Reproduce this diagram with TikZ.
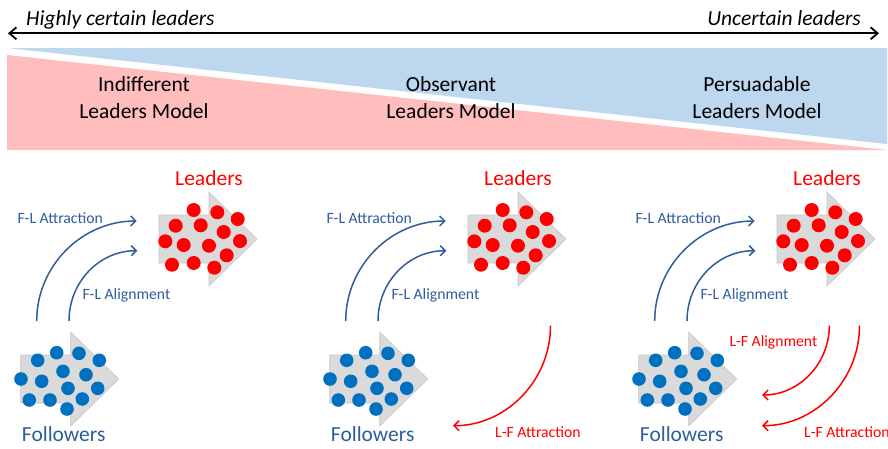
\documentclass[tikz,border=0pt]{standalone}
\usepackage{fontspec}
\setmainfont{Carlito}
\usetikzlibrary{arrows.meta}
\definecolor{pinkA}{RGB}{255,189,189}
\definecolor{blueA}{RGB}{189,215,238}
\definecolor{dblue}{RGB}{46,94,155}
\definecolor{dotblue}{RGB}{0,112,192}
\definecolor{arrowgray}{RGB}{218,218,218}
\definecolor{arrowedge}{RGB}{200,200,200}
\begin{document}
\begin{tikzpicture}[x=1pt,y=-1pt,
  bigtxt/.style={font=\fontsize{21.5}{27}\selectfont, inner sep=0pt},
  ittxt/.style={font=\fontsize{21.5}{26}\selectfont\itshape, inner sep=0pt},
  lbl/.style={font=\fontsize{15.7}{18}\selectfont, inner sep=0pt},
  flarrow/.style={draw=dblue, line width=1.5pt, -{Straight Barb[length=5pt,width=10pt]}},
  lfarrow/.style={draw=red, line width=1.5pt, -{Straight Barb[length=5pt,width=10pt]}},
  grayarrow/.style={fill=arrowgray, draw=arrowedge, line width=0.6pt},
  holder/.style={inner sep=0pt, minimum width=98pt, minimum height=94pt}
]
\clip (0,0) rectangle (888,448);
\fill[white] (0,0) rectangle (888,448);

% background wedges
\fill[blueA] (7,48) -- (887,48) -- (887,144) -- cycle;
\fill[pinkA] (7,55) -- (887,150) -- (7,150) -- cycle;

% top axis
\coordinate (axL) at (8,33.3);
\coordinate (axR) at (879,33.3);
\draw[line width=1.8pt, {Straight Barb[length=7pt,width=12pt]}-{Straight Barb[length=7pt,width=12pt]}] (axL) -- (axR);
\node[ittxt, anchor=base west] (hc) at (26,25) {Highly certain leaders};
\node[ittxt, anchor=base east] (uc) at (861,25) {Uncertain leaders};

% model titles
\node[bigtxt, align=center] (m1) at (144,98) {Indifferent\\Leaders Model};
\node[bigtxt, align=center] (m2) at (451,98) {Observant\\Leaders Model};
\node[bigtxt, align=center] (m3) at (757,98) {Persuadable\\Leaders Model};

% panels
\foreach \i/\dx in {1/0,2/309,3/618}{
  \begin{scope}[xshift=\dx pt]
    % leaders arrow
    \node[holder] (L\i) at (208,239) {};
    \path[grayarrow] (159,215) -- (209,215) -- (209,192) -- (257,239) -- (209,286) -- (209,263) -- (159,263) -- cycle;
    \begin{scope}[shift={(159,239)}]
      \foreach \a/\b in {34.7/-29,58.3/-26.7,78.7/-20,16.7/-13.3,41.7/-13.7,64.7/-7,6.3/2.3,24.7/6,50/6.7,81/2,67.7/16.3,13/25.7,34.7/24,55.3/28.7}
        \fill[red] (\a,\b) circle[radius=7pt];
    \end{scope}
    \node[bigtxt, text=red, anchor=base] (Lt\i) at (209,185) {Leaders};
    % followers arrow
    \node[holder] (F\i) at (69.5,379) {};
    \path[grayarrow] (20.7,355) -- (70.7,355) -- (70.7,332) -- (118.7,379) -- (70.7,426) -- (70.7,403) -- (20.7,403) -- cycle;
    \begin{scope}[shift={(20.7,379)}]
      \foreach \a/\b in {17/-18.7,36/-26.3,58.3/-25.7,78.6/-18.7,0.3/0,21/2.3,42.3/-7.7,65.3/-4.3,47.3/9.3,77/9.3,8.6/21,29.3/21,61.6/20,46.3/30}
        \fill[dotblue] (\a,\b) circle[radius=6.8pt];
    \end{scope}
    \node[bigtxt, text=dblue, anchor=base] (Ft\i) at (63.7,441) {Followers};
    % F-L connectors
    \coordinate (fat\i) at (36.7,321);
    \coordinate (fah\i) at (136.7,221);
    \coordinate (fal\i) at (69,321);
    \coordinate (fbh\i) at (137.3,250.7);
    \draw[flarrow] (fat\i) .. controls +(0,-55) and +(-55,0) .. (fah\i);
    \draw[flarrow] (fal\i) .. controls +(0,-39) and +(-38,0) .. (fbh\i);
    \node[lbl, text=dblue, anchor=base west] (fla\i) at (17.3,223.3) {F-L Attraction};
    \node[lbl, text=dblue, anchor=base west] (flb\i) at (82.3,299) {F-L Alignment};
  \end{scope}
}

% L-F connectors
\coordinate (la2s) at (550.5,325.7);
\coordinate (la2e) at (453,425.7);
\draw[lfarrow] (la2s) .. controls +(0,55) and +(53,0) .. (la2e);
\node[lbl, text=red, anchor=base west] (lfa2) at (495,437.7) {L-F Attraction};

\coordinate (la3s) at (859.5,325.7);
\coordinate (la3e) at (762,425.7);
\draw[lfarrow] (la3s) .. controls +(0,55) and +(53,0) .. (la3e);
\node[lbl, text=red, anchor=base west] (lfa3) at (804,437.7) {L-F Attraction};

\coordinate (lb3s) at (829.3,325.7);
\coordinate (lb3e) at (762,395);
\draw[lfarrow] (lb3s) .. controls +(0,38) and +(37,0) .. (lb3e);
\node[lbl, text=red, anchor=base west] (lfb3) at (729.3,346.7) {L-F Alignment};
\end{tikzpicture}
\end{document}
